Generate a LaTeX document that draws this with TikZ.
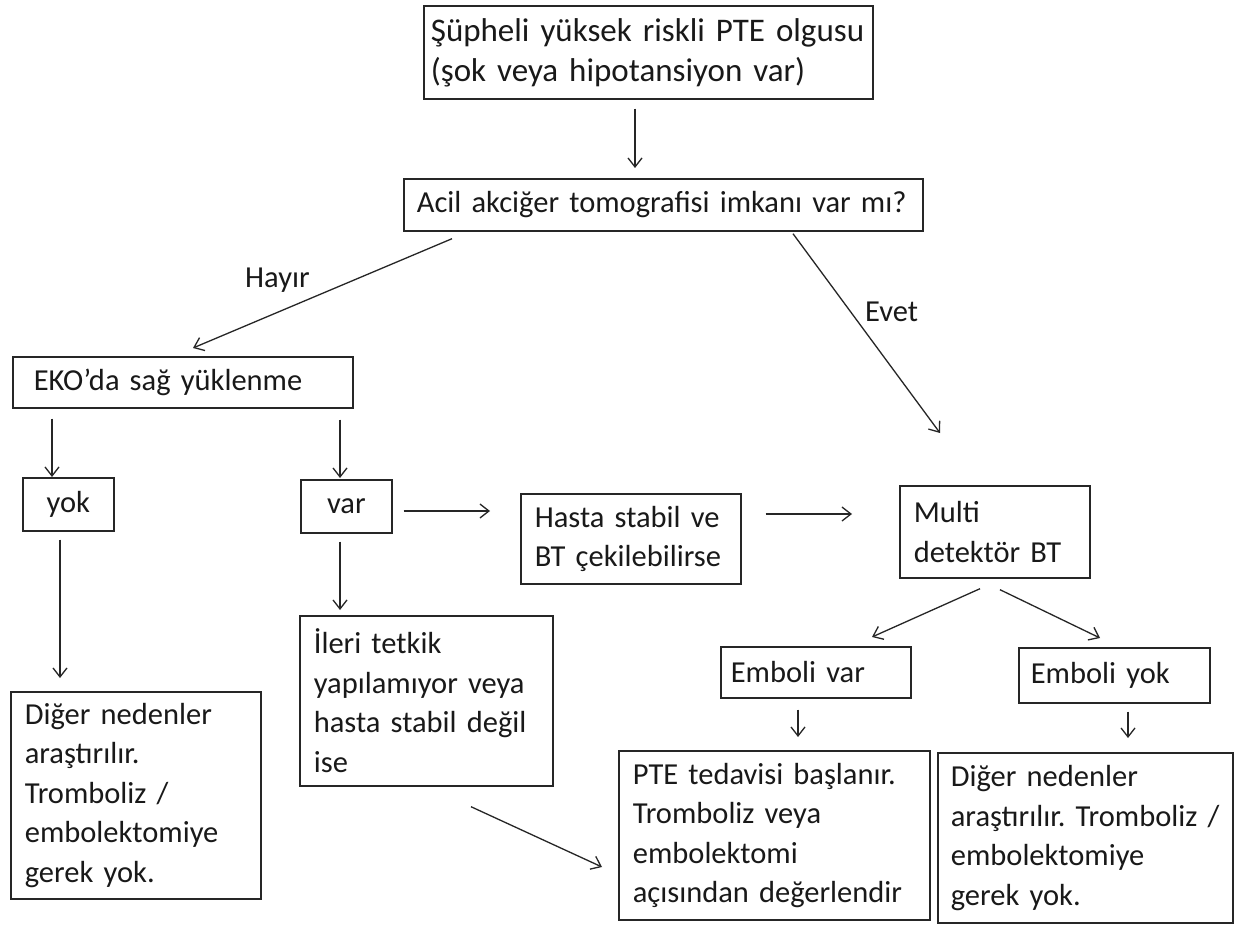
\documentclass[tikz,border=0pt]{standalone}
\usepackage{fontspec}
\setmainfont{Carlito}
\frenchspacing
\usetikzlibrary{arrows.meta,calc}
\begin{document}
\begin{tikzpicture}[x=1pt,y=-1pt,
  txt/.style={font=\fontsize{30.5}{39.5}\selectfont, text=black!90},
  box/.style={txt, draw=black!85, line width=1.7pt, anchor=north west, align=left, inner ysep=0pt},
  arr/.style={draw=black!85, line width=1.3pt, -{Straight Barb[length=9pt,width=14pt]}},
  lbl/.style={txt, inner sep=0pt, anchor=base west}]
\useasboundingbox[fill=white] (0,0) rectangle (1234,925);

% boxes
\node[box, font=\fontsize{33}{40}\selectfont, text width=435pt, inner xsep=7pt, minimum height=93pt] (b1) at (423,5)
  {\mbox{Şüpheli yüksek riskli PTE olgusu}\\(şok veya hipotansiyon var)};
\node[box, text width=493pt, inner xsep=13pt, minimum height=52pt] (b2) at (403,178)
  {\mbox{Acil akciğer tomografisi imkanı var mı?}};
\node[box, text width=298pt, inner xsep=21pt, minimum height=51pt] (eko) at (12,356)
  {EKO’da sağ yüklenme};
\node[box, align=center, minimum width=91pt, minimum height=53pt, inner xsep=0pt] (yok) at (22,477) {yok};
\node[box, align=center, minimum width=91pt, minimum height=53pt, inner xsep=0pt] (var) at (300,479) {var};
\node[box, text width=192pt, inner xsep=14pt, minimum height=90pt] (hasta) at (520,493)
  {\mbox{Hasta stabil ve}\\\mbox{BT çekilebilirse}};
\node[box, text width=162pt, inner xsep=14pt, minimum height=92pt] (multi) at (899,485)
  {Multi\\\mbox{detektör BT}};
\node[box, text width=225pt, inner xsep=14pt, minimum height=170pt] (ileri) at (299,615)
  {İleri tetkik\\\mbox{yapılamıyor veya}\\\mbox{hasta stabil değil}\\ise};
\node[box, text width=222pt, inner xsep=14pt, minimum height=207pt] (digerL) at (10,691)
  {Diğer nedenler\\araştırılır.\\Tromboliz /\\embolektomiye\\gerek yok.};
\node[box, text width=170pt, inner xsep=10pt, minimum height=51pt] (ev) at (720,646)
  {Emboli var};
\node[box, text width=167pt, inner xsep=12pt, minimum height=55pt] (ey) at (1018,647)
  {Emboli yok};
\node[box, text width=283pt, inner xsep=14pt, minimum height=169pt] (pte) at (618,750)
  {\mbox{PTE tedavisi başlanır.}\\\mbox{Tromboliz veya}\\embolektomi\\\mbox{açısından değerlendir}};
\node[box, text width=269pt, inner xsep=13pt, minimum height=170pt] (digerR) at (937,752)
  {Diğer nedenler\\\mbox{araştırılır. Tromboliz /}\\embolektomiye\\gerek yok.};

% connectors
\draw[arr] ($(b1.south west)+(212,9)$) -- ($(b2.north west)+(232,-10)$);
\draw[arr] ($(b2.south west)+(49,7)$) -- ($(eko.north west)+(181,-8)$);
\draw[arr] ($(b2.south west)+(390,2)$) -- ($(multi.north west)+(41,-52)$);
\draw[arr] ($(eko.south west)+(40,10)$) -- ($(yok.north west)+(30,0)$);
\draw[arr] ($(eko.south west)+(328,11)$) -- ($(var.north west)+(40,-1)$);
\draw[arr] ($(yok.south west)+(38,8)$) -- ($(digerL.north west)+(50,-13)$);
\draw[arr] ($(var.south west)+(40,8)$) -- ($(ileri.north west)+(41,-5)$);
\draw[arr] ($(var.north east)+(11,32)$) -- ($(hasta.north west)+(-30,18)$);
\draw[arr] ($(hasta.north east)+(24,21)$) -- ($(multi.north west)+(-47,29)$);
\draw[arr] ($(ileri.south west)+(172,20)$) -- ($(pte.north west)+(-16,117)$);
\draw[arr] ($(multi.south west)+(81,10)$) -- ($(ev.north west)+(152,-9)$);
\draw[arr] ($(multi.south west)+(101,11)$) -- ($(ey.north west)+(82,-9)$);
\draw[arr] ($(ev.south west)+(78,11)$) -- ($(pte.north west)+(180,-13)$);
\draw[arr] ($(ey.south west)+(110,8)$) -- ($(digerR.north west)+(191,-14)$);

% labels
\node[lbl] (hayir) at (245,288) {Hayır};
\node[lbl] (evet) at (865,321) {Evet};
\end{tikzpicture}
\end{document}
